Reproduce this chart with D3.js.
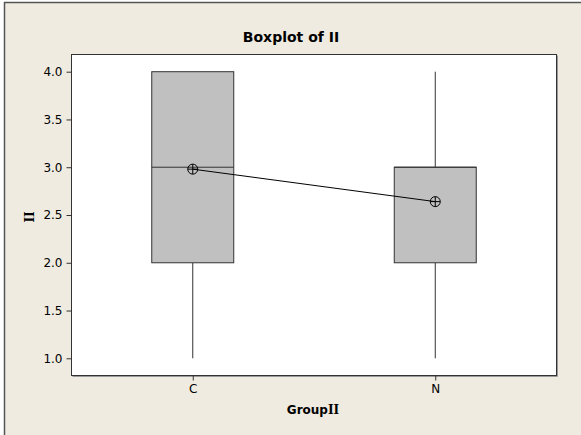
<!DOCTYPE html>
<html><head><meta charset="utf-8">
<script src="https://cdn.jsdelivr.net/npm/d3@7"></script>
<style>body{margin:0;background:#fff}svg{display:block}</style>
</head><body><svg id="c" width="581" height="435"></svg>
<script>
const groups = ["C", "N"];
const q1 = [2, 2];
const median = [3, 3];
const q3 = [4, 3];
const whiskerLow = [1, 1];
const whiskerHigh = [4, 4];
const means = [2.98, 2.64];
const yTicks = [1.0, 1.5, 2.0, 2.5, 3.0, 3.5, 4.0];

const W = 581, H = 435;
const m = {left: 71.5, right: 556.5, top: 54.5, bottom: 375.5};
const svg = d3.select("#c");
const font = "'DejaVu Sans', Verdana, sans-serif";

svg.append("rect").attr("x", 4.5).attr("y", 2.5).attr("width", 700).attr("height", 600)
  .attr("fill", "#EFEBE1").attr("stroke", "#555").attr("stroke-width", 1.5);

const y = d3.scaleLinear().domain([1, 4]).range([358.3, 71.7]);
const x = d3.scalePoint().domain(groups).range([m.left, m.right]).padding(0.5);

// plot shadow + area
svg.append("path").attr("d", `M${m.right+1},${m.top+1}V${m.bottom+1}H${m.left+1}`)
  .attr("fill", "none").attr("stroke", "#999");
svg.append("rect").attr("x", m.left).attr("y", m.top).attr("width", m.right-m.left).attr("height", m.bottom-m.top)
  .attr("fill", "#fff").attr("stroke", "#333");

// y axis
const ya = svg.append("g").attr("transform", `translate(${m.left},0)`)
  .call(d3.axisLeft(y).tickValues(yTicks).tickFormat(d3.format(".1f")).tickSize(5).tickPadding(4));
ya.select(".domain").remove();
ya.selectAll("text").attr("font-family", font).attr("font-size", 12).attr("fill", "#000");
ya.selectAll("line").attr("stroke", "#333");

// x axis
const xa = svg.append("g").attr("transform", `translate(0,${m.bottom})`)
  .call(d3.axisBottom(x).tickSize(5).tickPadding(4));
xa.select(".domain").remove();
xa.selectAll("text").attr("font-family", font).attr("font-size", 12).attr("fill", "#000");
xa.selectAll("line").attr("stroke", "#333");

const bw = 82;
groups.forEach((g, i) => {
  const cx = x(g);
  if (whiskerHigh[i] > q3[i])
    svg.append("line").attr("x1", cx).attr("x2", cx).attr("y1", y(q3[i])).attr("y2", y(whiskerHigh[i])).attr("stroke", "#333");
  if (whiskerLow[i] < q1[i])
    svg.append("line").attr("x1", cx).attr("x2", cx).attr("y1", y(q1[i])).attr("y2", y(whiskerLow[i])).attr("stroke", "#333");
  svg.append("rect").attr("x", cx - bw/2).attr("y", y(q3[i])).attr("width", bw).attr("height", y(q1[i]) - y(q3[i]))
    .attr("fill", "#C0C0C0").attr("stroke", "#333");
  svg.append("line").attr("x1", cx - bw/2).attr("x2", cx + bw/2).attr("y1", y(median[i])).attr("y2", y(median[i]))
    .attr("stroke", "#333");
});

svg.append("path").datum(groups.map((g, i) => [x(g), y(means[i])]))
  .attr("d", d3.line()).attr("fill", "none").attr("stroke", "#000");

groups.forEach((g, i) => {
  const cx = x(g), cy = y(means[i]), r = 5;
  svg.append("circle").attr("cx", cx).attr("cy", cy).attr("r", r).attr("fill", "none").attr("stroke", "#000");
  svg.append("path").attr("d", `M${cx-r},${cy}H${cx+r}M${cx},${cy-r}V${cy+r}`).attr("stroke", "#000");
});

svg.append("text").attr("x", 291).attr("y", 42).attr("text-anchor", "middle")
  .attr("font-family", font).attr("font-weight", "bold").attr("font-size", 14).text("Boxplot of II");
const xl = svg.append("text").attr("x", 313).attr("y", 414).attr("text-anchor", "middle")
  .attr("font-family", font).attr("font-weight", "bold").attr("font-size", 12);
xl.append("tspan").text("Group");
xl.append("tspan").attr("font-family", "'DejaVu Serif', serif").text("II");
svg.append("text").attr("transform", "translate(34,217) rotate(-90)").attr("text-anchor", "middle")
  .attr("font-family", "'DejaVu Serif', serif").attr("font-weight", "bold").attr("font-size", 12).text("II");
</script></body></html>
